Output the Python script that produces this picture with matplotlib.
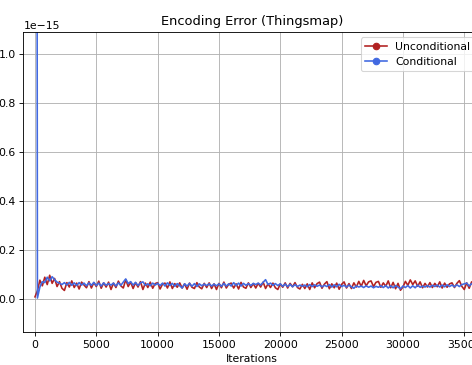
import numpy as np
import matplotlib
matplotlib.use("Agg")
import matplotlib.pyplot as plt
from matplotlib.lines import Line2D

# encoding error per iteration, in units of 1e-15
iterations = np.arange(0, 36001, 200)

unconditional = [
    0.010, 0.035, 0.078, 0.055, 0.090, 0.060, 0.098, 0.065, 0.085, 0.052,
    0.072, 0.045, 0.036, 0.068, 0.050, 0.075, 0.048, 0.066, 0.042, 0.070,
    0.058, 0.047, 0.072, 0.046, 0.068, 0.052, 0.074, 0.045, 0.067, 0.050,
    0.070, 0.040, 0.066, 0.048, 0.074, 0.055, 0.046, 0.080, 0.052, 0.070,
    0.044, 0.068, 0.050, 0.072, 0.040, 0.066, 0.048, 0.070, 0.045, 0.064,
    0.068, 0.042, 0.062, 0.066, 0.046, 0.071, 0.044, 0.064, 0.049, 0.067,
    0.046, 0.063, 0.041, 0.066, 0.049, 0.044, 0.068, 0.050, 0.043, 0.065,
    0.048, 0.067, 0.044, 0.063, 0.040, 0.065, 0.047, 0.070, 0.046, 0.062,
    0.066, 0.046, 0.063, 0.042, 0.069, 0.050, 0.045, 0.067, 0.048, 0.064,
    0.046, 0.065, 0.050, 0.070, 0.044, 0.063, 0.048, 0.066, 0.047, 0.040,
    0.063, 0.049, 0.067, 0.046, 0.065, 0.051, 0.068, 0.048, 0.042, 0.061,
    0.044, 0.063, 0.040, 0.067, 0.047, 0.064, 0.070, 0.045, 0.062, 0.072,
    0.043, 0.063, 0.047, 0.066, 0.041, 0.061, 0.071, 0.046, 0.064, 0.044,
    0.067, 0.050, 0.073, 0.053, 0.077, 0.055, 0.071, 0.075, 0.052, 0.069,
    0.073, 0.049, 0.067, 0.053, 0.075, 0.047, 0.069, 0.043, 0.065, 0.037,
    0.050, 0.073, 0.057, 0.079, 0.060, 0.075, 0.053, 0.071, 0.047, 0.065,
    0.050, 0.068, 0.048, 0.065, 0.051, 0.071, 0.046, 0.066, 0.049, 0.063,
    0.067, 0.048, 0.065, 0.076, 0.053, 0.040, 0.067, 0.045, 0.071, 0.053,
    0.062,
]

conditional = [
    10.0, 0.005, 0.050, 0.072, 0.068, 0.090, 0.075, 0.092, 0.080, 0.070,
    0.066, 0.060, 0.068, 0.058, 0.069, 0.057, 0.067, 0.056, 0.068, 0.058,
    0.066, 0.055, 0.067, 0.057, 0.069, 0.056, 0.066, 0.054, 0.067, 0.057,
    0.064, 0.058, 0.066, 0.054, 0.067, 0.057, 0.070, 0.083, 0.064, 0.072,
    0.058, 0.069, 0.056, 0.067, 0.071, 0.057, 0.063, 0.055, 0.066, 0.058,
    0.065, 0.056, 0.066, 0.054, 0.067, 0.056, 0.065, 0.053, 0.064, 0.055,
    0.046, 0.063, 0.054, 0.065, 0.053, 0.064, 0.052, 0.063, 0.055, 0.062,
    0.056, 0.063, 0.054, 0.062, 0.055, 0.063, 0.053, 0.065, 0.054, 0.063,
    0.054, 0.068, 0.056, 0.066, 0.054, 0.065, 0.057, 0.064, 0.056, 0.065,
    0.060, 0.066, 0.058, 0.069, 0.080, 0.060, 0.066, 0.057, 0.064, 0.056,
    0.063, 0.053, 0.062, 0.052, 0.061, 0.051, 0.060, 0.052, 0.058, 0.053,
    0.058, 0.051, 0.060, 0.052, 0.059, 0.053, 0.058, 0.051, 0.057, 0.052,
    0.060, 0.050, 0.059, 0.051, 0.061, 0.052, 0.057, 0.050, 0.058, 0.051,
    0.045, 0.055, 0.050, 0.054, 0.048, 0.055, 0.049, 0.054, 0.047, 0.053,
    0.049, 0.055, 0.048, 0.056, 0.046, 0.055, 0.047, 0.056, 0.050, 0.043,
    0.054, 0.048, 0.056, 0.046, 0.055, 0.047, 0.058, 0.049, 0.054, 0.050,
    0.056, 0.050, 0.057, 0.052, 0.058, 0.050, 0.058, 0.051, 0.059, 0.052,
    0.058, 0.051, 0.059, 0.052, 0.060, 0.063, 0.066, 0.054, 0.064, 0.056,
    0.058,
]

red = 'firebrick'
blue = 'royalblue'

# original was drawn larger and shrunk, so use a lower dpi
dpi = 78
fig = plt.figure(figsize=(472 / dpi, 365 / dpi), dpi=dpi)
# axes run past the right edge, like the cropped original
ax = fig.add_axes([0.0494, 0.0904, 0.968, 0.822])

ax.plot(iterations, np.array(unconditional) * 1e-15, color=red, lw=1.5)
ax.plot(iterations, np.array(conditional) * 1e-15, color=blue, lw=1.5)

ax.set_xlim(-950, 36300)
ax.set_ylim(-0.133e-15, 1.088e-15)
ax.set_xticks([0, 5000, 10000, 15000, 20000, 25000, 30000, 35000])
ax.grid(True)
ax.set_title("Encoding Error (Thingsmap)")
ax.set_xlabel("Iterations")

handles = [Line2D([], [], color=red, marker='o', lw=1.5),
           Line2D([], [], color=blue, marker='o', lw=1.5)]
ax.legend(handles, ["Unconditional", "Conditional"], loc="upper right")

fig.savefig("out.png", dpi=dpi)
